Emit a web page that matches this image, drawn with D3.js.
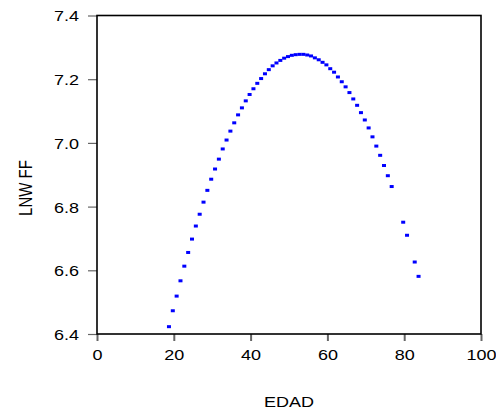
<!DOCTYPE html>
<html>
<head>
<meta charset="utf-8">
<script src="https://cdn.jsdelivr.net/npm/d3@7"></script>
<style>
  html, body { margin: 0; padding: 0; background: #fff; }
  text { font-family: Arial, "Liberation Sans", sans-serif; }
</style>
</head>
<body>
<svg id="chart" width="496" height="412"></svg>
<script>
const edad = [19,20,21,22,23,24,25,26,27,28,29,30,31,32,33,34,35,36,37,38,39,40,
  41,42,43,44,45,46,47,48,49,50,51,52,53,54,55,56,57,58,59,60,61,62,63,64,65,66,
  67,68,69,70,71,72,73,74,75,76,77,80,81,83,84];
const lnwff = [6.423,6.473,6.519,6.567,6.613,6.656,6.698,6.739,6.776,6.814,6.851,6.886,
  6.918,6.949,6.981,7.009,7.037,7.063,7.088,7.110,7.132,7.152,7.170,7.187,7.202,7.217,
  7.230,7.242,7.251,7.259,7.266,7.271,7.275,7.277,7.278,7.278,7.276,7.273,7.267,7.261,
  7.253,7.245,7.233,7.222,7.207,7.192,7.176,7.158,7.138,7.118,7.095,7.072,7.047,7.019,
  6.990,6.961,6.929,6.897,6.863,6.751,6.710,6.626,6.581];
const xTicks = [0,20,40,60,80,100];
const yTicks = [6.4,6.6,6.8,7.0,7.2,7.4];
const xLabel = "EDAD";
const yLabel = "LNW FF";

const svg = d3.select("#chart");
const L = 97, R = 481, T = 15.5, B = 334;
const x = d3.scaleLinear().domain([0,100]).range([L,R]);
const y = d3.scaleLinear().domain([6.4,7.4]).range([B,T]);
const SX = 1.2;

// x axis ticks
const xAxis = d3.axisBottom(x).tickValues(xTicks).tickSize(7).tickPadding(0).tickFormat(d3.format("d"));
const gx = svg.append("g").attr("transform", `translate(0,${B})`).call(xAxis);
gx.select(".domain").remove();
gx.selectAll(".tick line").attr("stroke", "#666").attr("stroke-width", 2);
gx.selectAll(".tick text").remove();
gx.selectAll(".tick").append("text")
  .attr("transform", `translate(0,25.5) scale(${SX},1)`)
  .attr("text-anchor", "middle")
  .attr("font-size", 15).attr("fill", "#000")
  .text(d => d3.format("d")(d));

// y axis ticks
const yAxis = d3.axisLeft(y).tickValues(yTicks).tickSize(9).tickPadding(0);
const gy = svg.append("g").attr("transform", `translate(${L},0)`).call(yAxis);
gy.select(".domain").remove();
gy.selectAll(".tick line").attr("stroke", "#666").attr("stroke-width", 1.2);
gy.selectAll(".tick text").remove();
gy.selectAll(".tick").append("text")
  .attr("transform", `translate(-18,0) scale(${SX},1)`)
  .attr("text-anchor", "end").attr("dy", "0.36em")
  .attr("font-size", 15).attr("fill", "#000")
  .text(d => d3.format(".1f")(d));

// frame
svg.append("rect")
  .attr("x", L).attr("y", T).attr("width", R - L).attr("height", B - T)
  .attr("fill", "none").attr("stroke", "#000").attr("stroke-width", 1.6);

// points
svg.append("g").selectAll("rect").data(edad.map((a,i) => [a, lnwff[i]])).join("rect")
  .attr("x", d => x(d[0]) - 3).attr("y", d => y(d[1]) - 1.5)
  .attr("width", 4).attr("height", 3)
  .attr("fill", "#0000ff");

// labels
svg.append("text")
  .attr("transform", `translate(${(L+R)/2},407) scale(${SX},1)`)
  .attr("text-anchor", "middle").attr("font-size", 15).attr("fill", "#000")
  .text(xLabel);
svg.append("text")
  .attr("transform", `translate(31.5,188) scale(${SX},1) rotate(-90)`)
  .attr("text-anchor", "middle").attr("font-size", 15).attr("fill", "#000")
  .text(yLabel);
</script>
</body>
</html>
